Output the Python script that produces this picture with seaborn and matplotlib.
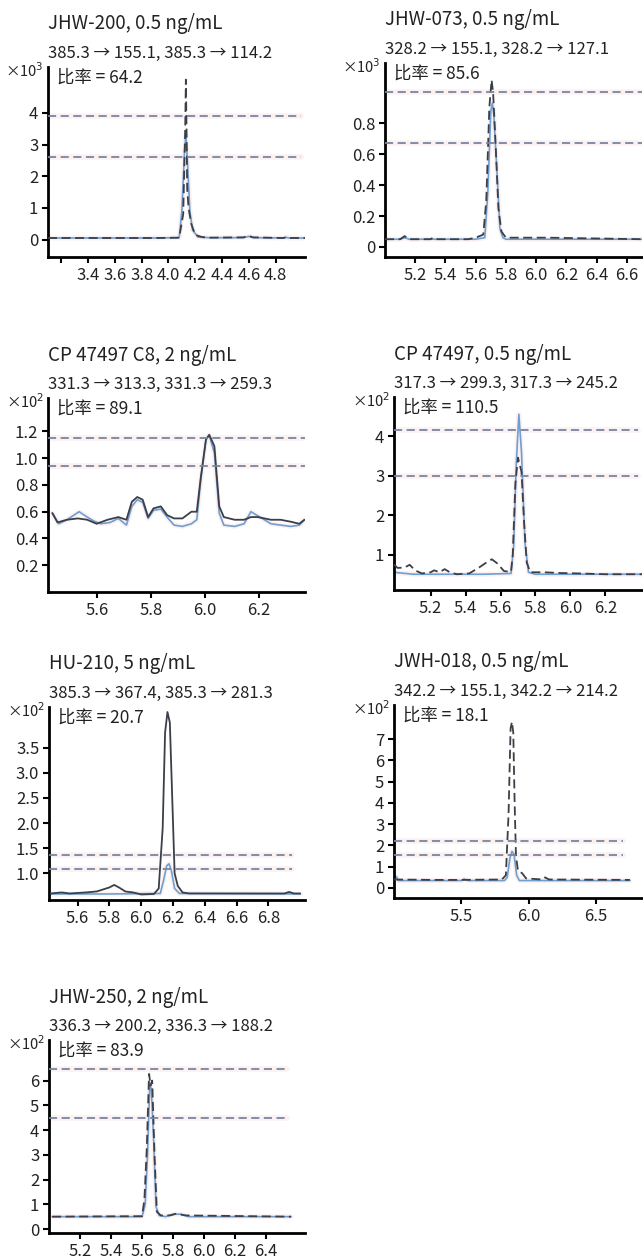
import matplotlib
matplotlib.use("Agg")
import matplotlib.pyplot as plt
import seaborn as sns

# ---- panel labels ----
titles = ["JHW-200, 0.5 ng/mL", "JHW-073, 0.5 ng/mL", "CP 47497 C8, 2 ng/mL",
          "CP 47497, 0.5 ng/mL", "HU-210, 5 ng/mL", "JWH-018, 0.5 ng/mL",
          "JHW-250, 2 ng/mL"]
transitions = ["385.3 → 155.1, 385.3 → 114.2", "328.2 → 155.1, 328.2 → 127.1",
               "331.3 → 313.3, 331.3 → 259.3", "317.3 → 299.3, 317.3 → 245.2",
               "385.3 → 367.4, 385.3 → 281.3", "342.2 → 155.1, 342.2 → 214.2",
               "336.3 → 200.2, 336.3 → 188.2"]
ratios = ["64.2", "85.6", "89.1", "110.5", "20.7", "18.1", "83.9"]
exponents = [3, 3, 2, 2, 2, 2, 2]
limits_upper = [3.9, 1.0, 1.15, 4.16, 1.36, 2.19, 6.46]
limits_lower = [2.6, 0.675, 0.94, 3.0, 1.09, 1.56, 4.47]

# ---- traces (retention time, abundance) ----
jhw200_blue_x = [3.10, 3.50, 3.90, 4.08, 4.10, 4.12, 4.13, 4.14, 4.16, 4.18, 4.22, 4.30, 4.56, 4.60, 4.64, 4.86, 4.88, 4.90, 5.02]
jhw200_blue_y = [0.05, 0.05, 0.05, 0.06, 0.9, 2.8, 3.3, 2.6, 0.9, 0.3, 0.08, 0.06, 0.06, 0.1, 0.06, 0.05, 0.07, 0.05, 0.05]
jhw200_dark_x = [3.10, 3.50, 3.90, 4.08, 4.11, 4.125, 4.13, 4.135, 4.14, 4.15, 4.17, 4.20, 4.25, 4.30, 4.56, 4.60, 4.63, 4.86, 4.88, 4.90, 5.02]
jhw200_dark_y = [0.05, 0.05, 0.05, 0.06, 0.8, 3.5, 5.05, 3.5, 1.6, 1.0, 0.5, 0.15, 0.08, 0.06, 0.07, 0.12, 0.07, 0.05, 0.08, 0.05, 0.05]

jhw073_blue_x = [5.00, 5.10, 5.13, 5.16, 5.60, 5.66, 5.68, 5.70, 5.71, 5.72, 5.74, 5.76, 5.78, 5.80, 6.70]
jhw073_blue_y = [0.05, 0.05, 0.06, 0.05, 0.05, 0.06, 0.35, 0.88, 0.93, 0.85, 0.5, 0.12, 0.06, 0.05, 0.05]
jhw073_dark_x = [5.00, 5.10, 5.13, 5.16, 5.30, 5.32, 5.34, 5.55, 5.60, 5.65, 5.67, 5.69, 5.705, 5.715, 5.73, 5.75, 5.77, 5.80, 5.85, 5.90, 6.05, 6.08, 6.70]
jhw073_dark_y = [0.05, 0.05, 0.07, 0.05, 0.05, 0.06, 0.05, 0.05, 0.06, 0.08, 0.3, 0.9, 1.08, 1.0, 0.7, 0.25, 0.1, 0.06, 0.06, 0.06, 0.06, 0.06, 0.05]

cp8_blue_x = [5.436, 5.46, 5.49, 5.535, 5.565, 5.59, 5.615, 5.65, 5.68, 5.71, 5.73, 5.75, 5.77, 5.79, 5.81, 5.837, 5.86, 5.886, 5.917, 5.95, 5.97, 5.985, 6.004, 6.016, 6.035, 6.053, 6.07, 6.11, 6.145, 6.17, 6.195, 6.22, 6.244, 6.28, 6.318, 6.349, 6.368]
cp8_blue_y = [0.59, 0.51, 0.54, 0.60, 0.56, 0.53, 0.51, 0.52, 0.55, 0.50, 0.64, 0.69, 0.67, 0.55, 0.61, 0.62, 0.56, 0.50, 0.49, 0.51, 0.54, 0.84, 1.14, 1.17, 1.04, 0.59, 0.50, 0.49, 0.51, 0.60, 0.57, 0.54, 0.51, 0.50, 0.49, 0.50, 0.54]
cp8_dark_x = [5.436, 5.455, 5.49, 5.53, 5.565, 5.60, 5.64, 5.68, 5.71, 5.73, 5.75, 5.77, 5.79, 5.81, 5.837, 5.86, 5.886, 5.917, 5.95, 5.97, 5.985, 6.004, 6.016, 6.035, 6.053, 6.07, 6.11, 6.145, 6.17, 6.195, 6.22, 6.244, 6.28, 6.318, 6.349, 6.368]
cp8_dark_y = [0.59, 0.52, 0.54, 0.55, 0.54, 0.51, 0.54, 0.56, 0.54, 0.675, 0.71, 0.69, 0.56, 0.625, 0.64, 0.575, 0.55, 0.55, 0.60, 0.60, 0.86, 1.14, 1.175, 1.09, 0.64, 0.56, 0.54, 0.54, 0.56, 0.56, 0.55, 0.54, 0.54, 0.525, 0.51, 0.54]

cp_blue_x = [4.99, 5.10, 5.30, 5.50, 5.66, 5.675, 5.69, 5.705, 5.72, 5.74, 5.76, 5.80, 6.41]
cp_blue_y = [0.55, 0.5, 0.5, 0.5, 0.52, 1.2, 3.3, 4.56, 3.6, 1.3, 0.55, 0.5, 0.5]
cp_dark_x = [4.99, 5.01, 5.05, 5.08, 5.11, 5.15, 5.20, 5.22, 5.25, 5.28, 5.31, 5.35, 5.42, 5.47, 5.52, 5.55, 5.58, 5.62, 5.66, 5.67, 5.685, 5.70, 5.72, 5.735, 5.75, 5.77, 5.85, 5.95, 6.05, 6.20, 6.41]
cp_dark_y = [0.75, 0.66, 0.67, 0.74, 0.6, 0.52, 0.55, 0.6, 0.55, 0.63, 0.55, 0.5, 0.52, 0.65, 0.8, 0.88, 0.78, 0.58, 0.56, 1.0, 2.8, 3.46, 3.1, 1.8, 0.8, 0.55, 0.55, 0.53, 0.52, 0.5, 0.5]

hu_blue_x = [5.43, 5.80, 6.12, 6.14, 6.16, 6.175, 6.19, 6.21, 6.24, 7.00]
hu_blue_y = [0.59, 0.59, 0.60, 0.85, 1.15, 1.19, 1.05, 0.7, 0.6, 0.59]
hu_dark_x = [5.43, 5.50, 5.55, 5.65, 5.72, 5.76, 5.80, 5.83, 5.86, 5.90, 5.95, 6.00, 6.08, 6.11, 6.135, 6.15, 6.165, 6.18, 6.195, 6.21, 6.23, 6.26, 6.30, 6.60, 6.90, 6.93, 6.96, 7.00]
hu_dark_y = [0.60, 0.62, 0.60, 0.62, 0.64, 0.68, 0.72, 0.77, 0.72, 0.64, 0.62, 0.58, 0.59, 0.7, 1.9, 3.8, 4.21, 4.0, 2.5, 1.0, 0.75, 0.62, 0.6, 0.6, 0.6, 0.63, 0.6, 0.6]

jwh018_blue_x = [5.00, 5.02, 5.03, 5.30, 5.50, 5.52, 5.55, 5.82, 5.84, 5.86, 5.875, 5.89, 5.91, 5.93, 6.75]
jwh018_blue_y = [0.55, 0.52, 0.35, 0.35, 0.35, 0.42, 0.35, 0.35, 0.5, 1.4, 1.72, 1.6, 0.6, 0.35, 0.35]
jwh018_dark_x = [5.00, 5.30, 5.50, 5.80, 5.83, 5.85, 5.865, 5.875, 5.885, 5.895, 5.905, 5.92, 5.95, 5.98, 6.10, 6.12, 6.15, 6.75]
jwh018_dark_y = [0.4, 0.38, 0.38, 0.4, 0.6, 3.5, 7.5, 7.81, 7.3, 4.0, 1.5, 0.8, 0.7, 0.45, 0.4, 0.5, 0.4, 0.38]

jhw250_blue_x = [5.02, 5.60, 5.62, 5.635, 5.65, 5.66, 5.675, 5.69, 5.71, 5.75, 5.80, 5.85, 5.90, 6.56]
jhw250_blue_y = [0.5, 0.5, 1.0, 3.0, 5.9, 5.6, 3.5, 0.9, 0.55, 0.5, 0.6, 0.6, 0.5, 0.5]
jhw250_dark_x = [5.02, 5.60, 5.615, 5.63, 5.645, 5.655, 5.665, 5.68, 5.695, 5.72, 5.78, 5.82, 5.88, 6.56]
jhw250_dark_y = [0.5, 0.52, 1.2, 3.2, 6.27, 5.8, 6.0, 3.0, 0.7, 0.55, 0.55, 0.62, 0.55, 0.5]

blue_traces = [(jhw200_blue_x, jhw200_blue_y), (jhw073_blue_x, jhw073_blue_y), (cp8_blue_x, cp8_blue_y),
               (cp_blue_x, cp_blue_y), (hu_blue_x, hu_blue_y), (jwh018_blue_x, jwh018_blue_y),
               (jhw250_blue_x, jhw250_blue_y)]
dark_traces = [(jhw200_dark_x, jhw200_dark_y), (jhw073_dark_x, jhw073_dark_y), (cp8_dark_x, cp8_dark_y),
               (cp_dark_x, cp_dark_y), (hu_dark_x, hu_dark_y), (jwh018_dark_x, jwh018_dark_y),
               (jhw250_dark_x, jhw250_dark_y)]

# ---- axes ticks ----
xticks = [[3.2, 3.4, 3.6, 3.8, 4.0, 4.2, 4.4, 4.6, 4.8], [5.2, 5.4, 5.6, 5.8, 6.0, 6.2, 6.4, 6.6],
          [5.6, 5.8, 6.0, 6.2], [5.2, 5.4, 5.6, 5.8, 6.0, 6.2], [5.6, 5.8, 6.0, 6.2, 6.4, 6.6, 6.8],
          [5.5, 6.0, 6.5], [5.2, 5.4, 5.6, 5.8, 6.0, 6.2, 6.4]]
xticklabels = [["", "3.4", "3.6", "3.8", "4.0", "4.2", "4.4", "4.6", "4.8"],
               ["5.2", "5.4", "5.6", "5.8", "6.0", "6.2", "6.4", "6.6"],
               ["5.6", "5.8", "6.0", "6.2"], ["5.2", "5.4", "5.6", "5.8", "6.0", "6.2"],
               ["5.6", "5.8", "6.0", "6.2", "6.4", "6.6", "6.8"], ["5.5", "6.0", "6.5"],
               ["5.2", "5.4", "5.6", "5.8", "6.0", "6.2", "6.4"]]
yticks = [[0, 1, 2, 3, 4], [0, 0.2, 0.4, 0.6, 0.8], [0.2, 0.4, 0.6, 0.8, 1.0, 1.2], [1, 2, 3, 4],
          [1.0, 1.5, 2.0, 2.5, 3.0, 3.5], [0, 1, 2, 3, 4, 5, 6, 7], [0, 1, 2, 3, 4, 5, 6]]
yticklabels = [["0", "1", "2", "3", "4"], ["0", "0.2", "0.4", "0.6", "0.8"],
               ["0.2", "0.4", "0.6", "0.8", "1.0", "1.2"], ["1", "2", "3", "4"],
               ["1.0", "1.5", "2.0", "2.5", "3.0", "3.5"], ["0", "1", "2", "3", "4", "5", "6", "7"],
               ["0", "1", "2", "3", "4", "5", "6"]]
xlims = [(3.1, 5.02), (5.0, 6.7), (5.42, 6.37), (4.99, 6.41), (5.42, 7.03), (5.0, 6.84), (5.0, 6.65)]
ylims = [(-0.55, 5.45), (-0.065, 1.19), (0.0, 1.45), (0.1, 5.0), (0.47, 4.31), (-0.47, 8.6), (-0.16, 7.64)]

# axes boxes in pixels: left, top, right, bottom
boxes = [(48, 67, 305, 257), (385, 63, 642, 257), (48, 398, 305, 592), (394, 397, 642, 590),
         (49, 707, 305, 900), (394, 705, 642, 898), (49, 1040, 305, 1233)]
dark_styles = [(0, (5, 2.5)), (0, (5, 2.5)), "-", (0, (5, 2.5)), "-", (0, (5, 2.5)), (0, (5, 2.5))]
ref_span = [0.985, 1.0, 1.0, 0.985, 0.95, 0.925, 0.93]

sns.set_theme(style="ticks")
plt.rcParams["font.family"] = ["Liberation Sans Narrow", "Noto Sans CJK SC", "DejaVu Sans"]

W, H = 643, 1258
fig = plt.figure(figsize=(W / 100, H / 100), dpi=100)
fig.patch.set_facecolor("white")

blue_c = "#6e9fd2"
dark_c = "#3b3f47"
ref_c = "#7587a2"
halo_c = "#fcf0f0"

for i in range(7):
    l, t, r, b = boxes[i]
    ax = fig.add_axes([l / W, 1 - b / H, (r - l) / W, (b - t) / H])
    ax.set_facecolor("white")

    for yv in (limits_upper[i], limits_lower[i]):
        ax.axhline(yv, xmax=ref_span[i], color=halo_c, lw=4, zorder=1)
        ax.axhline(yv, xmax=ref_span[i], color=ref_c, lw=1.3, ls=(0, (4.5, 2.5)), zorder=4)

    bx, by = blue_traces[i]
    dx, dy = dark_traces[i]
    sns.lineplot(x=bx, y=by, ax=ax, color=halo_c, lw=3.5, estimator=None, sort=False, zorder=1)
    sns.lineplot(x=bx, y=by, ax=ax, color=blue_c, lw=1.2, estimator=None, sort=False, zorder=2)
    sns.lineplot(x=dx, y=dy, ax=ax, color=dark_c, lw=1.3, linestyle=dark_styles[i],
                 estimator=None, sort=False, zorder=3)

    ax.set_xlim(*xlims[i])
    ax.set_ylim(*ylims[i])
    ax.set_xticks(xticks[i])
    ax.set_xticklabels(xticklabels[i])
    ax.set_yticks(yticks[i])
    ax.set_yticklabels(yticklabels[i])
    ax.tick_params(axis="both", length=4, width=1.5, color="black", labelsize=12,
                   labelcolor="#222222", pad=3)
    sns.despine(ax=ax)
    for side in ("left", "bottom"):
        ax.spines[side].set_linewidth(2)
        ax.spines[side].set_color("black")
    ax.set_xlabel("")
    ax.set_ylabel("")

    ax.annotate(titles[i], xy=(0, 1), xycoords="axes fraction", xytext=(0, 43),
                textcoords="offset pixels", ha="left", va="center", fontsize=13.5, color="#222222")
    ax.annotate(transitions[i], xy=(0, 1), xycoords="axes fraction", xytext=(0, 14),
                textcoords="offset pixels", ha="left", va="center", fontsize=12, color="#222222")
    ax.annotate("×10$^{%d}$" % exponents[i], xy=(0, 1), xycoords="axes fraction", xytext=(-4, -4),
                textcoords="offset pixels", ha="right", va="center", fontsize=10.5, color="#222222")
    ax.annotate("比率 = " + ratios[i], xy=(0, 1), xycoords="axes fraction", xytext=(9, -11),
                textcoords="offset pixels", ha="left", va="center", fontsize=12.5, color="#222222")

fig.savefig("out.png", dpi=100, facecolor="white")
